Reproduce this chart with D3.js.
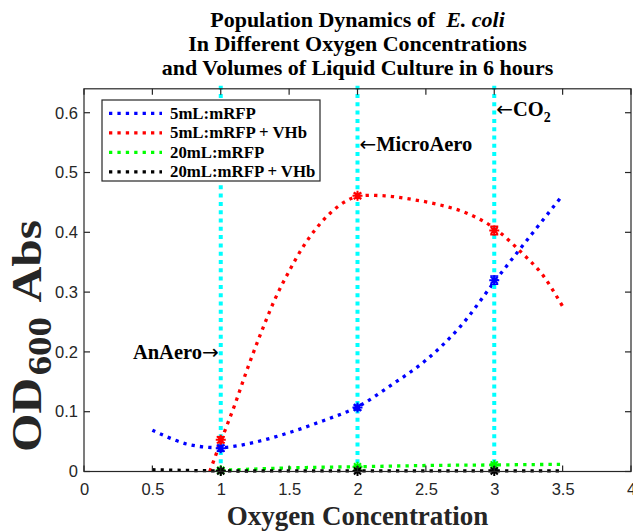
<!DOCTYPE html>
<html>
<head>
<meta charset="utf-8">
<script src="https://cdn.jsdelivr.net/npm/d3@7"></script>
<style>
  html, body { margin: 0; padding: 0; background: #fff; }
  svg { display: block; }
</style>
</head>
<body>
<svg id="chart" width="633" height="532"></svg>
<script>
// ---------------- data ----------------
const xTicks = [0, 0.5, 1, 1.5, 2, 2.5, 3, 3.5, 4];
const yTicks = [0, 0.1, 0.2, 0.3, 0.4, 0.5, 0.6];
const oxygenLevels = [1, 2, 3];               // cyan reference lines

const seriesNames = ["5mL:mRFP", "5mL:mRFP + VHb", "20mL:mRFP", "20mL:mRFP + VHb"];
const seriesColors = ["#0000ff", "#ff0000", "#00ff00", "#000000"];

// fitted curves
const blueX  = [0.5, 0.75, 1.0, 1.25, 1.5, 1.75, 2.0, 2.25, 2.5, 2.75, 3.0, 3.25, 3.5];
const blueY  = [0.069, 0.046, 0.040, 0.049, 0.065, 0.085, 0.108, 0.145, 0.186, 0.242, 0.317, 0.390, 0.462];
const redX   = [0.92, 1.0, 1.1, 1.2, 1.3, 1.4, 1.5, 1.6, 1.7, 1.8, 1.9, 2.0, 2.2, 2.4, 2.6, 2.8, 3.0, 3.2, 3.35, 3.5];
const redY   = [0.0, 0.05, 0.11, 0.175, 0.235, 0.29, 0.335, 0.375, 0.407, 0.432, 0.450, 0.460, 0.461, 0.455, 0.446, 0.432, 0.407, 0.366, 0.330, 0.276];
const greenX = [1.0, 1.5, 2.0, 2.5, 3.0, 3.5];
const greenY = [0.002, 0.006, 0.008, 0.010, 0.011, 0.012];
const blackX = [0.5, 1.0, 1.5, 2.0, 2.5, 3.0, 3.5];
const blackY = [0.003, 0.001, 0.001, 0.001, 0.001, 0.001, 0.001];

// measured points with error bars
const pointX     = [1, 2, 3];
const blueMean   = [0.039, 0.107, 0.320];
const blueErr    = [0.005, 0.004, 0.007];
const redMean    = [0.053, 0.461, 0.403];
const redErr     = [0.005, 0.004, 0.007];
const greenMean  = [0.002, 0.008, 0.011];
const greenErr   = [0.001, 0.001, 0.001];
const blackMean  = [0.001, 0.001, 0.001];
const blackErr   = [0.001, 0.001, 0.001];

const titleLines = ["Population Dynamics of ", "In Different Oxygen Concentrations", "and Volumes of Liquid Culture in 6 hours"];
const xLabel = "Oxygen Concentration";

// ---------------- drawing ----------------
const svg = d3.select("#chart");
const L = 84, R = 631, T = 88.8, B = 471.5;
const x = d3.scaleLinear().domain([0, 4]).range([L, R]);
const y = d3.scaleLinear().domain([0, 0.64]).range([B, T]);

const serif = "'Liberation Serif', 'Times New Roman', serif";
const sans = "'Liberation Sans', Arial, Helvetica, sans-serif";
const arrowFont = "'DejaVu Sans', sans-serif";
const axisColor = "#262626";

const curves = [
  {xs: blueX, ys: blueY}, {xs: redX, ys: redY}, {xs: greenX, ys: greenY}, {xs: blackX, ys: blackY}
];
const points = [
  {m: blueMean, e: blueErr}, {m: redMean, e: redErr}, {m: greenMean, e: greenErr}, {m: blackMean, e: blackErr}
];

const line = d3.line().x(d => x(d[0])).y(d => y(d[1])).curve(d3.curveCatmullRom.alpha(0.5));
const dotStyle = sel => sel.attr("fill", "none").attr("stroke-width", 3.3).attr("stroke-dasharray", "3.3 5.1");

// fitted curves
curves.forEach((c, i) => {
  const pts = c.xs.map((v, j) => [v, c.ys[j]]);
  svg.append("path").datum(pts).attr("d", line).attr("stroke", seriesColors[i]).call(dotStyle);
});

// cyan reference lines
svg.append("g").selectAll("line").data(oxygenLevels).join("line")
  .attr("x1", d => x(d)).attr("x2", d => x(d))
  .attr("y1", y(0)).attr("y2", y(0.652))
  .attr("stroke", "#00ffff").attr("stroke-width", 4).attr("stroke-dasharray", "4 4.3");

// markers: error bars + asterisks
function asterisk(cx, cy, r) {
  const a = r * 0.7071;
  return `M${cx - r},${cy}L${cx + r},${cy}M${cx},${cy - r}L${cx},${cy + r}` +
         `M${cx - a},${cy - a}L${cx + a},${cy + a}M${cx - a},${cy + a}L${cx + a},${cy - a}`;
}
points.forEach((p, i) => {
  const g = svg.append("g").attr("stroke", seriesColors[i]).attr("fill", "none");
  pointX.forEach((px, j) => {
    const cx = x(px), lo = y(p.m[j] - p.e[j]), hi = y(p.m[j] + p.e[j]);
    g.append("path").attr("stroke-width", 1.5)
      .attr("d", `M${cx},${lo}L${cx},${hi}M${cx - 4},${lo}L${cx + 4},${lo}M${cx - 4},${hi}L${cx + 4},${hi}`);
    g.append("path").attr("stroke-width", 2).attr("d", asterisk(cx, y(p.m[j]), 5));
  });
});

// axes box
svg.append("rect").attr("x", L).attr("y", T).attr("width", R - L).attr("height", B - T)
  .attr("fill", "none").attr("stroke", axisColor).attr("stroke-width", 1.2);

const xAxis = d3.axisBottom(x).tickValues(xTicks).tickSize(0).tickPadding(12).tickFormat(d3.format("~g"));
const yAxis = d3.axisLeft(y).tickValues(yTicks).tickSize(0).tickPadding(6).tickFormat(d3.format("~g"));
const gx = svg.append("g").attr("transform", `translate(0,${B})`).call(xAxis);
const gy = svg.append("g").attr("transform", `translate(${L},0)`).call(yAxis);
[gx, gy].forEach(g => {
  g.select(".domain").remove();
  g.selectAll("text").attr("font-family", sans).attr("font-size", 16.5).attr("fill", axisColor);
});
// inward tick marks on all four sides
const tk = 6;
const tickG = svg.append("g").attr("stroke", axisColor).attr("stroke-width", 1.2);
xTicks.forEach(v => {
  tickG.append("line").attr("x1", x(v)).attr("x2", x(v)).attr("y1", B).attr("y2", B - tk);
  tickG.append("line").attr("x1", x(v)).attr("x2", x(v)).attr("y1", T).attr("y2", T + tk);
});
yTicks.forEach(v => {
  tickG.append("line").attr("x1", L).attr("x2", L + tk).attr("y1", y(v)).attr("y2", y(v));
  tickG.append("line").attr("x1", R).attr("x2", R - tk).attr("y1", y(v)).attr("y2", y(v));
});

// title
const tG = svg.append("g").attr("font-family", serif).attr("font-weight", "bold").attr("font-size", 22)
  .attr("text-anchor", "middle").attr("fill", "#000");
const t1 = tG.append("text").attr("x", (L + R) / 2).attr("y", 27);
t1.append("tspan").text(titleLines[0]);
t1.append("tspan").attr("font-style", "italic").text("\u00a0E. coli");
tG.append("text").attr("x", (L + R) / 2).attr("y", 51).text(titleLines[1]);
tG.append("text").attr("x", (L + R) / 2).attr("y", 75).text(titleLines[2]);

// x label
svg.append("text").attr("x", (L + R) / 2).attr("y", 525).attr("text-anchor", "middle")
  .attr("font-family", serif).attr("font-weight", "bold").attr("font-size", 27).attr("fill", "#262626")
  .text(xLabel);

// y label
const yl = svg.append("text").attr("transform", "translate(41,336) rotate(-90) scale(1.18,1)").attr("text-anchor", "middle")
  .attr("font-family", serif).attr("font-weight", "bold").attr("font-size", 42).attr("fill", "#262626");
yl.append("tspan").text("OD");
yl.append("tspan").attr("font-size", 33).attr("dy", 10).attr("dx", 2).text("600");
yl.append("tspan").attr("dy", -10).attr("dx", 4).text(" Abs");

// annotations
const aG = svg.append("g").attr("font-family", serif).attr("font-weight", "bold").attr("font-size", 20.5).attr("fill", "#000");
const an = aG.append("text").attr("x", x(1) - 2).attr("y", 359).attr("text-anchor", "end");
an.append("tspan").text("AnAero");
an.append("tspan").attr("font-family", arrowFont).attr("font-weight", "normal").attr("font-size", 20).text("\u2192");
const mi = aG.append("text").attr("x", x(2) + 2).attr("y", 151);
mi.append("tspan").attr("font-family", arrowFont).attr("font-weight", "normal").attr("font-size", 20).text("\u2190");
mi.append("tspan").text("MicroAero");
const co = aG.append("text").attr("x", x(3) + 2).attr("y", 116);
co.append("tspan").attr("font-family", arrowFont).attr("font-weight", "normal").attr("font-size", 20).text("\u2190");
co.append("tspan").text("CO");
co.append("tspan").attr("font-size", 14).attr("dy", 6).text("2");

// legend
const lg = svg.append("g");
lg.append("rect").attr("x", 102).attr("y", 100).attr("width", 218).attr("height", 81)
  .attr("fill", "#fff").attr("stroke", "#262626").attr("stroke-width", 1.2);
seriesNames.forEach((name, i) => {
  const ry = 113.3 + i * 19.5;
  lg.append("line").attr("x1", 109).attr("x2", 162).attr("y1", ry).attr("y2", ry)
    .attr("stroke", seriesColors[i]).call(dotStyle);
  lg.append("text").attr("x", 170).attr("y", ry + 5.5).attr("font-family", serif).attr("font-weight", "bold")
    .attr("font-size", 16.8).attr("fill", "#000").text(name);
});
</script>
</body>
</html>
